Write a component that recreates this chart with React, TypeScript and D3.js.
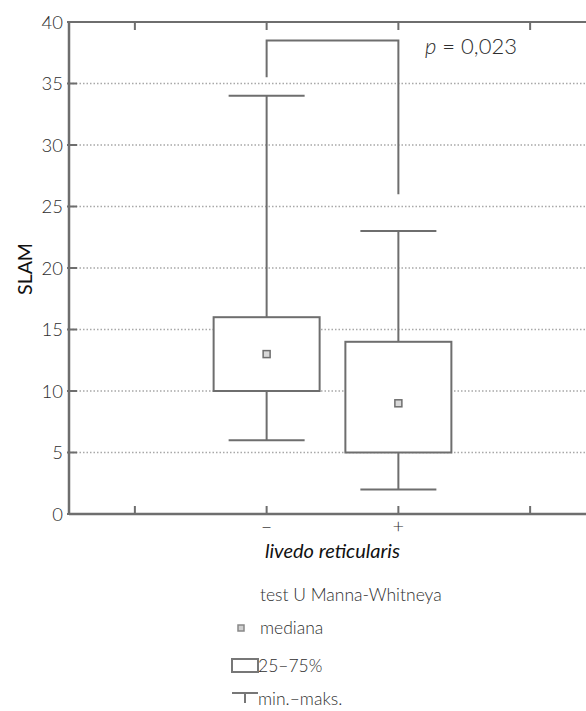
import React from "react";
import * as d3 from "d3";

// Box-plot summary per group of livedo reticularis
const groups = ["–", "+"];
const groupPos = [2, 3];
const mins = [6, 2];
const q1s = [10, 5];
const medians = [13, 9];
const q3s = [16, 14];
const maxs = [34, 23];

const yTicks = [0, 5, 10, 15, 20, 25, 30, 35, 40];
const xTickPos = [1, 2, 3, 4];

// Significance bracket (values in SLAM units)
const bracketTop = 38.5;
const bracketLeftEnd = 35.5;
const bracketRightEnd = 26;
const pText = "0,023";

const legendItems = ["mediana", "25–75%", "min.–maks."];

const W = 586;
const H = 711;
const FONT = "Lato, 'Open Sans', sans-serif";
const LINE = "#6e6e6e";
const TEXT = "#2e2e2e";

export default function App() {
  const x = d3.scaleLinear().domain([0.5, 4.5]).range([69, 596]);
  const y = d3.scaleLinear().domain([0, 40]).range([514, 22]);
  const boxHalf = 53;
  const capHalf = 38;
  const plotLeft = x(0.5);
  const plotRight = W;

  return (
    <svg
      width={W}
      height={H}
      style={{ position: "absolute", left: 0, top: 0, background: "#fff" }}
      fontFamily={FONT}
    >
      {/* dotted grid */}
      {yTicks.filter((t) => t > 0 && t < 40).map((t) => (
        <line
          key={"g" + t}
          x1={plotLeft}
          x2={plotRight}
          y1={y(t)}
          y2={y(t)}
          stroke="#a8a8a8"
          strokeWidth={1.6}
          strokeDasharray="1.5,2"
        />
      ))}

      {/* frame */}
      <line x1={plotLeft} x2={plotRight} y1={y(40)} y2={y(40)} stroke={LINE} strokeWidth={2} />
      <line x1={plotLeft} x2={plotRight} y1={y(0)} y2={y(0)} stroke={LINE} strokeWidth={2.5} />
      <line x1={plotLeft} x2={plotLeft} y1={y(40) - 1} y2={y(0) + 1} stroke={LINE} strokeWidth={2.5} />

      {/* y ticks and labels */}
      {yTicks.map((t) => (
        <g key={"y" + t}>
          <line x1={plotLeft - 2} x2={plotLeft + 8} y1={y(t)} y2={y(t)} stroke={LINE} strokeWidth={2} />
          <text
            x={plotLeft - 6}
            y={y(t)}
            dy="0.36em"
            textAnchor="end"
            fontSize={18.5}
            fontWeight={300}
            fill={TEXT}
          >
            {t}
          </text>
        </g>
      ))}

      {/* x ticks on bottom and top */}
      {xTickPos.map((p) => (
        <g key={"x" + p}>
          <line x1={x(p)} x2={x(p)} y1={y(0)} y2={y(0) - 8} stroke={LINE} strokeWidth={2} />
          <line x1={x(p)} x2={x(p)} y1={y(40)} y2={y(40) + 8} stroke={LINE} strokeWidth={2} />
        </g>
      ))}

      {/* boxes */}
      {groups.map((g, i) => {
        const cx = x(groupPos[i]);
        return (
          <g key={"b" + i} stroke={LINE} strokeWidth={2} fill="none">
            <line x1={cx} x2={cx} y1={y(q3s[i])} y2={y(maxs[i])} />
            <line x1={cx} x2={cx} y1={y(q1s[i])} y2={y(mins[i])} />
            <line x1={cx - capHalf} x2={cx + capHalf} y1={y(maxs[i])} y2={y(maxs[i])} />
            <line x1={cx - capHalf} x2={cx + capHalf} y1={y(mins[i])} y2={y(mins[i])} />
            <rect
              x={cx - boxHalf}
              y={y(q3s[i])}
              width={boxHalf * 2}
              height={y(q1s[i]) - y(q3s[i])}
              fill="#fff"
            />
            <rect
              x={cx - 3.5}
              y={y(medians[i]) - 3.5}
              width={7}
              height={7}
              fill="#d8d8d8"
              strokeWidth={1.5}
            />
          </g>
        );
      })}

      {/* significance bracket */}
      <path
        d={`M${x(groupPos[0])},${y(bracketLeftEnd)}V${y(bracketTop)}H${x(groupPos[1])}V${y(bracketRightEnd)}`}
        fill="none"
        stroke={LINE}
        strokeWidth={2}
      />
      <text x={425} y={54} fontSize={22} fontWeight={300} fill={TEXT}>
        <tspan fontStyle="italic">p</tspan>
        <tspan> = {pText}</tspan>
      </text>

      {/* category labels */}
      {groups.map((g, i) => (
        <text
          key={"c" + i}
          x={x(groupPos[i])}
          y={533}
          textAnchor="middle"
          fontSize={20}
          fontWeight={300}
          fill={TEXT}
        >
          {g}
        </text>
      ))}

      {/* axis titles */}
      <text
        x={(x(groupPos[0]) + x(groupPos[1])) / 2}
        y={558}
        textAnchor="middle"
        fontSize={20}
        fontStyle="italic"
        fill="#111"
      >
        livedo reticularis
      </text>
      <text
        transform={`translate(32,${269}) rotate(-90)`}
        textAnchor="middle"
        fontSize={19.5}
        fill="#111"
      >
        SLAM
      </text>

      {/* legend */}
      <text x={260} y={601} fontSize={17.5} fontWeight={300} fill={TEXT}>
        test U Manna-Whitneya
      </text>
      <rect x={238} y={625} width={6} height={6} fill="#d0d0d0" stroke="#888" strokeWidth={1.5} />
      <text x={260} y={634} fontSize={17.5} fontWeight={300} fill={TEXT}>
        {legendItems[0]}
      </text>
      <rect x={232} y={659} width={26} height={13} fill="#fff" stroke="#777" strokeWidth={2} />
      <text x={258} y={672} fontSize={17.5} fontWeight={300} fill={TEXT}>
        {legendItems[1]}
      </text>
      <g stroke="#777" strokeWidth={2}>
        <line x1={232} x2={258} y1={693} y2={693} />
        <line x1={245} x2={245} y1={693} y2={703} />
      </g>
      <text x={258} y={705} fontSize={17.5} fontWeight={300} fill={TEXT}>
        {legendItems[2]}
      </text>
    </svg>
  );
}
